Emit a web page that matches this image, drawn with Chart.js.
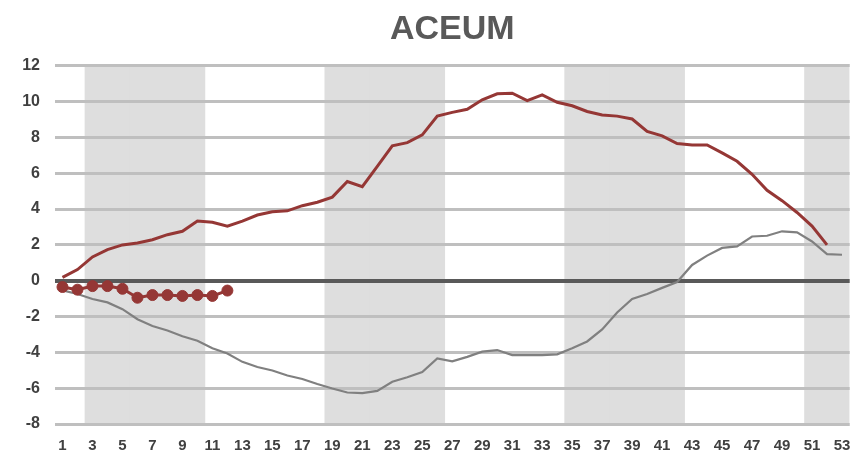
<!DOCTYPE html>
<html>
<head>
<meta charset="utf-8">
<title>ACEUM</title>
<script src="https://cdn.jsdelivr.net/npm/chart.js@4.4.1/dist/chart.umd.min.js"></script>
<style>
  html, body { margin: 0; padding: 0; background: #ffffff; }
  #wrap { width: 856px; height: 458px; position: relative; }
</style>
</head>
<body>
<div id="wrap"><canvas id="aceumChart"></canvas></div>
<script>
const weeks = [
  "1", "2", "3", "4", "5", "6", "7", "8", "9", "10",
  "11", "12", "13", "14", "15", "16", "17", "18", "19", "20",
  "21", "22", "23", "24", "25", "26", "27", "28", "29", "30",
  "31", "32", "33", "34", "35", "36", "37", "38", "39", "40",
  "41", "42", "43", "44", "45", "46", "47", "48", "49", "50",
  "51", "52", "53",
];

// upper (red) line, weeks 1-52
const redLine = [
  0.19, 0.62, 1.33, 1.74, 2.0, 2.11, 2.29, 2.57, 2.76, 3.33,
  3.26, 3.05, 3.33, 3.67, 3.85, 3.9, 4.19, 4.38, 4.67, 5.54,
  5.25, 6.38, 7.53, 7.71, 8.14, 9.19, 9.4, 9.57, 10.1, 10.44,
  10.47, 10.06, 10.38, 9.96, 9.77, 9.45, 9.25, 9.19, 9.03, 8.34,
  8.09, 7.66, 7.58, 7.58, 7.14, 6.67, 5.94, 5.05, 4.47, 3.81,
  3.05, 2.0, null,
];

// lower (grey) line, weeks 1-53
const greyLine = [
  -0.54, -0.74, -1.02, -1.21, -1.59, -2.15, -2.53, -2.78, -3.1, -3.35,
  -3.77, -4.06, -4.53, -4.82, -5.01, -5.29, -5.49, -5.77, -6.02, -6.24,
  -6.28, -6.15, -5.64, -5.39, -5.1, -4.34, -4.5, -4.25, -3.96, -3.87,
  -4.15, -4.15, -4.15, -4.11, -3.77, -3.39, -2.72, -1.77, -1.02, -0.74,
  -0.4, -0.07, 0.88, 1.4, 1.83, 1.92, 2.47, 2.51, 2.76, 2.7,
  2.19, 1.48, 1.45,
];

// current year (red markers), weeks 1-12
const currentYear = [
  -0.35, -0.5, -0.3, -0.3, -0.45, -0.95, -0.8, -0.8, -0.85, -0.8,
  -0.85, -0.55,
];

// shaded weeks: 3-10, 19-26, 35-42, 51-53
const shadedWeeks = [3, 4, 5, 6, 7, 8, 9, 10, 19, 20, 21, 22, 23, 24, 25, 26,
  35, 36, 37, 38, 39, 40, 41, 42, 51, 52, 53];

const yMin = -8;
const yMax = 12;
const yStep = 2;

const bands = weeks.map((w) => (shadedWeeks.includes(Number(w)) ? [yMin, yMax] : null));

// redraw the horizontal grid on top of the shaded bands
const gridOverBands = {
  id: "gridOverBands",
  afterDatasetDraw(chart, args) {
    if (args.index === 0) {
      chart.scales.y.drawGrid(chart.chartArea);
    }
  },
};

const ctx = document.getElementById("aceumChart").getContext("2d");

new Chart(ctx, {
  type: "bar",
  data: {
    labels: weeks,
    datasets: [
      {
        type: "bar",
        label: "bands",
        data: bands,
        backgroundColor: "#dedede",
        borderWidth: 0,
        barPercentage: 1,
        categoryPercentage: 1,
        order: 10,
      },
      {
        type: "line",
        label: "upper",
        data: redLine,
        borderColor: "#953735",
        borderWidth: 3,
        pointRadius: 0,
        tension: 0,
        order: 2,
      },
      {
        type: "line",
        label: "lower",
        data: greyLine,
        borderColor: "#808080",
        borderWidth: 2.2,
        pointRadius: 0,
        tension: 0,
        order: 3,
      },
      {
        type: "line",
        label: "current",
        data: currentYear,
        borderColor: "#953735",
        backgroundColor: "#953735",
        borderWidth: 3,
        pointRadius: 5.5,
        pointStyle: "circle",
        pointBackgroundColor: "#953735",
        pointBorderColor: "#953735",
        pointBorderWidth: 1,
        tension: 0,
        order: 1,
      },
    ],
  },
  options: {
    responsive: true,
    maintainAspectRatio: false,
    animation: false,
    events: [],
    layout: {
      padding: { left: 22, right: 4, top: 0, bottom: 0 },
    },
    plugins: {
      legend: { display: false },
      tooltip: { enabled: false },
      title: {
        display: true,
        text: "ACEUM",
        fullSize: false,
        color: "#595959",
        font: { family: "'Liberation Sans', Arial, sans-serif", size: 34, weight: "bold" },
        padding: { top: 9, bottom: 16 },
      },
    },
    scales: {
      x: {
        offset: true,
        grid: { display: false, drawTicks: false },
        border: { display: false },
        afterFit: (scale) => {
          scale.height = 34;
          scale.paddingLeft = 0;
          scale.paddingRight = 0;
        },
        ticks: {
          autoSkip: false,
          maxRotation: 0,
          padding: 13,
          color: "#404040",
          font: { family: "'Liberation Sans', Arial, sans-serif", size: 15, weight: "bold" },
          callback: function (value, index) {
            return index % 2 === 0 ? this.getLabelForValue(value) : "";
          },
        },
      },
      y: {
        min: yMin,
        max: yMax,
        afterFit: (scale) => {
          scale.width = 33;
        },
        grid: {
          drawTicks: false,
          color: (c) => (c.tick && c.tick.value === 0 ? "#595959" : "#bfbfbf"),
          lineWidth: (c) => (c.tick && c.tick.value === 0 ? 4 : 3),
        },
        border: { display: false },
        ticks: {
          stepSize: yStep,
          padding: 15,
          color: "#404040",
          font: { family: "'Liberation Sans', Arial, sans-serif", size: 16, weight: "bold" },
        },
      },
    },
  },
  plugins: [gridOverBands],
});
</script>
</body>
</html>
